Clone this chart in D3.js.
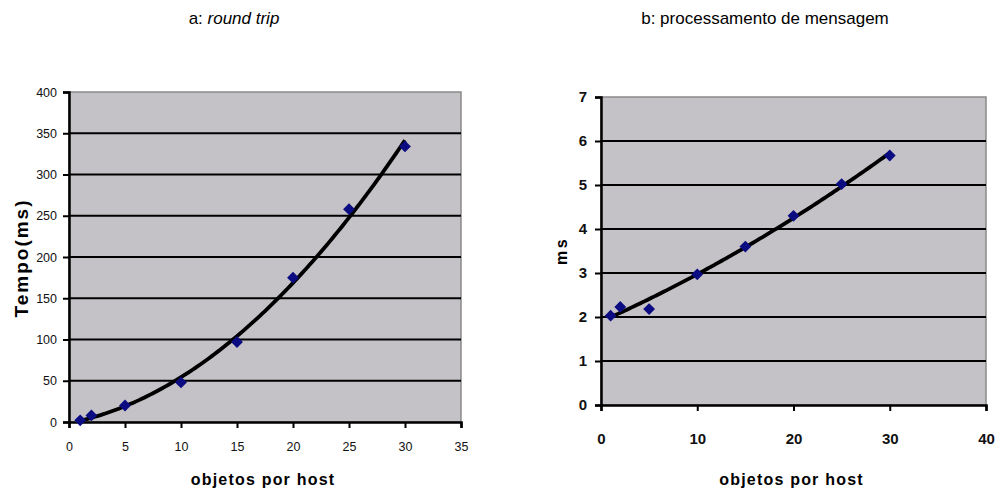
<!DOCTYPE html>
<html>
<head>
<meta charset="utf-8">
<script src="https://cdnjs.cloudflare.com/ajax/libs/d3/7.8.5/d3.min.js"></script>
<style>
  body { margin: 0; background: #fff; }
  svg { display: block; font-family: "Liberation Sans", Arial, sans-serif; }
</style>
</head>
<body>
<div id="chart"></div>
<script>
// data
var objetos = [1, 2, 5, 10, 15, 20, 25, 30];
var roundTrip = [2, 8, 20, 48, 97, 175, 258, 334];
var mensagem = [2.03, 2.23, 2.18, 2.97, 3.6, 4.3, 5.02, 5.67];

var ticksA_x = [0, 5, 10, 15, 20, 25, 30, 35];
var ticksA_y = [0, 50, 100, 150, 200, 250, 300, 350, 400];
var ticksB_x = [0, 10, 20, 30, 40];
var ticksB_y = [0, 1, 2, 3, 4, 5, 6, 7];

var svgWidth = 997;
var svgHeight = 491;

var svg = d3.select("#chart")
  .append("svg")
  .attr("width", svgWidth)
  .attr("height", svgHeight);

// least squares polynomial (Excel style trendline)
function polyfit(xs, ys, order) {
  var n = order + 1;
  var A = [];
  for (var i = 0; i < n; i++) {
    A.push([]);
    for (var j = 0; j < n; j++) A[i].push(d3.sum(xs, x => Math.pow(x, i + j)));
    A[i].push(d3.sum(xs, (x, k) => ys[k] * Math.pow(x, i)));
  }
  for (var c = 0; c < n; c++) {
    for (var r = c + 1; r < n; r++) {
      var f = A[r][c] / A[c][c];
      for (var k = c; k <= n; k++) A[r][k] -= f * A[c][k];
    }
  }
  var coef = new Array(n).fill(0);
  for (var r2 = n - 1; r2 >= 0; r2--) {
    var s = A[r2][n];
    for (var k2 = r2 + 1; k2 < n; k2++) s -= A[r2][k2] * coef[k2];
    coef[r2] = s / A[r2][r2];
  }
  return x => coef.reduce((acc, a, p) => acc + a * Math.pow(x, p), 0);
}

function drawPanel(opt) {
  var x = d3.scaleLinear().domain(opt.xDomain).range([opt.left, opt.right]);
  var y = d3.scaleLinear().domain(opt.yDomain).range([opt.bottom, opt.top]);
  var g = svg.append("g");

  // plot area
  g.append("rect")
    .attr("x", opt.left).attr("y", opt.top)
    .attr("width", opt.right - opt.left)
    .attr("height", opt.bottom - opt.top)
    .attr("fill", "#c4c2c6")
    .attr("stroke", "#8a8a8a")
    .attr("stroke-width", 1.5);

  // gridlines
  g.selectAll(".grid")
    .data(opt.yTicks.slice(1, -1))
    .enter().append("line")
    .attr("x1", opt.left).attr("x2", opt.right)
    .attr("y1", d => y(d)).attr("y2", d => y(d))
    .attr("stroke", "#000").attr("stroke-width", 2);

  // axes
  var xAxis = g.append("g")
    .attr("transform", `translate(0, ${opt.bottom})`)
    .call(d3.axisBottom(x).tickValues(opt.xTicks).tickFormat(d3.format("d"))
      .tickSize(6).tickPadding(opt.xPad));
  var yAxis = g.append("g")
    .attr("transform", `translate(${opt.left}, 0)`)
    .call(d3.axisLeft(y).tickValues(opt.yTicks).tickFormat(d3.format("d"))
      .tickSize(6).tickPadding(opt.yPad));

  [xAxis, yAxis].forEach(function(a) {
    a.select(".domain").attr("stroke", "#000").attr("stroke-width", 2.5);
    a.selectAll(".tick line").attr("stroke", "#000").attr("stroke-width", 2);
    a.selectAll("text")
      .attr("font-family", "Liberation Sans, Arial, sans-serif")
      .attr("font-size", opt.tickSize)
      .attr("font-weight", opt.tickWeight)
      .attr("fill", "#111");
  });

  // trendline
  var fit = polyfit(opt.xs, opt.ys, 2);
  var pts = d3.range(opt.xs[0], opt.xs[opt.xs.length - 1] + 0.01, 0.25);
  g.append("path")
    .datum(pts)
    .attr("fill", "none")
    .attr("stroke", "#000")
    .attr("stroke-width", 3.8)
    .attr("d", d3.line().x(d => x(d)).y(d => y(fit(d))));

  // markers (square turned 45 degrees)
  g.selectAll(".pt")
    .data(opt.xs.map((v, i) => [v, opt.ys[i]]))
    .enter().append("path")
    .attr("d", d3.symbol().type(d3.symbolSquare).size(70))
    .attr("transform", d => `translate(${x(d[0])}, ${y(d[1])}) rotate(45)`)
    .attr("fill", "#0c0c82");

  // titles
  svg.append("text")
    .attr("x", (opt.left + opt.right) / 2 - 2)
    .attr("y", 485)
    .attr("text-anchor", "middle")
    .attr("font-size", 16)
    .attr("font-weight", "bold")
    .attr("letter-spacing", 1.2)
    .text("objetos por host");

  svg.append("text")
    .attr("transform", `translate(${opt.yTitleX}, ${opt.yTitleY}) rotate(-90)`)
    .attr("text-anchor", "middle")
    .attr("font-size", opt.yTitleSize)
    .attr("font-weight", "bold")
    .attr("letter-spacing", opt.yTitleSpacing)
    .text(opt.yTitle);
}

drawPanel({
  left: 69, right: 461, top: 92, bottom: 422,
  xDomain: [0, 35], yDomain: [0, 400],
  xTicks: ticksA_x, yTicks: ticksA_y,
  xs: objetos, ys: roundTrip,
  tickSize: 12.5, tickWeight: "normal", xPad: 14, yPad: 6,
  yTitle: "Tempo(ms)", yTitleX: 28, yTitleY: 258, yTitleSize: 19, yTitleSpacing: 2
});

drawPanel({
  left: 601, right: 986, top: 97, bottom: 405,
  xDomain: [0, 40], yDomain: [0, 7],
  xTicks: ticksB_x, yTicks: ticksB_y,
  xs: objetos, ys: mensagem,
  tickSize: 15, tickWeight: "bold", xPad: 22, yPad: 8,
  yTitle: "ms", yTitleX: 567, yTitleY: 251, yTitleSize: 16, yTitleSpacing: 2.5
});

// chart titles
var tA = svg.append("text")
  .attr("x", 234).attr("y", 24)
  .attr("text-anchor", "middle")
  .attr("font-size", 17);
tA.append("tspan").text("a:  ");
tA.append("tspan").attr("font-style", "italic").text("round trip");

svg.append("text")
  .attr("x", 765).attr("y", 24)
  .attr("text-anchor", "middle")
  .attr("font-size", 17)
  .text("b: processamento de mensagem");
</script>
</body>
</html>
